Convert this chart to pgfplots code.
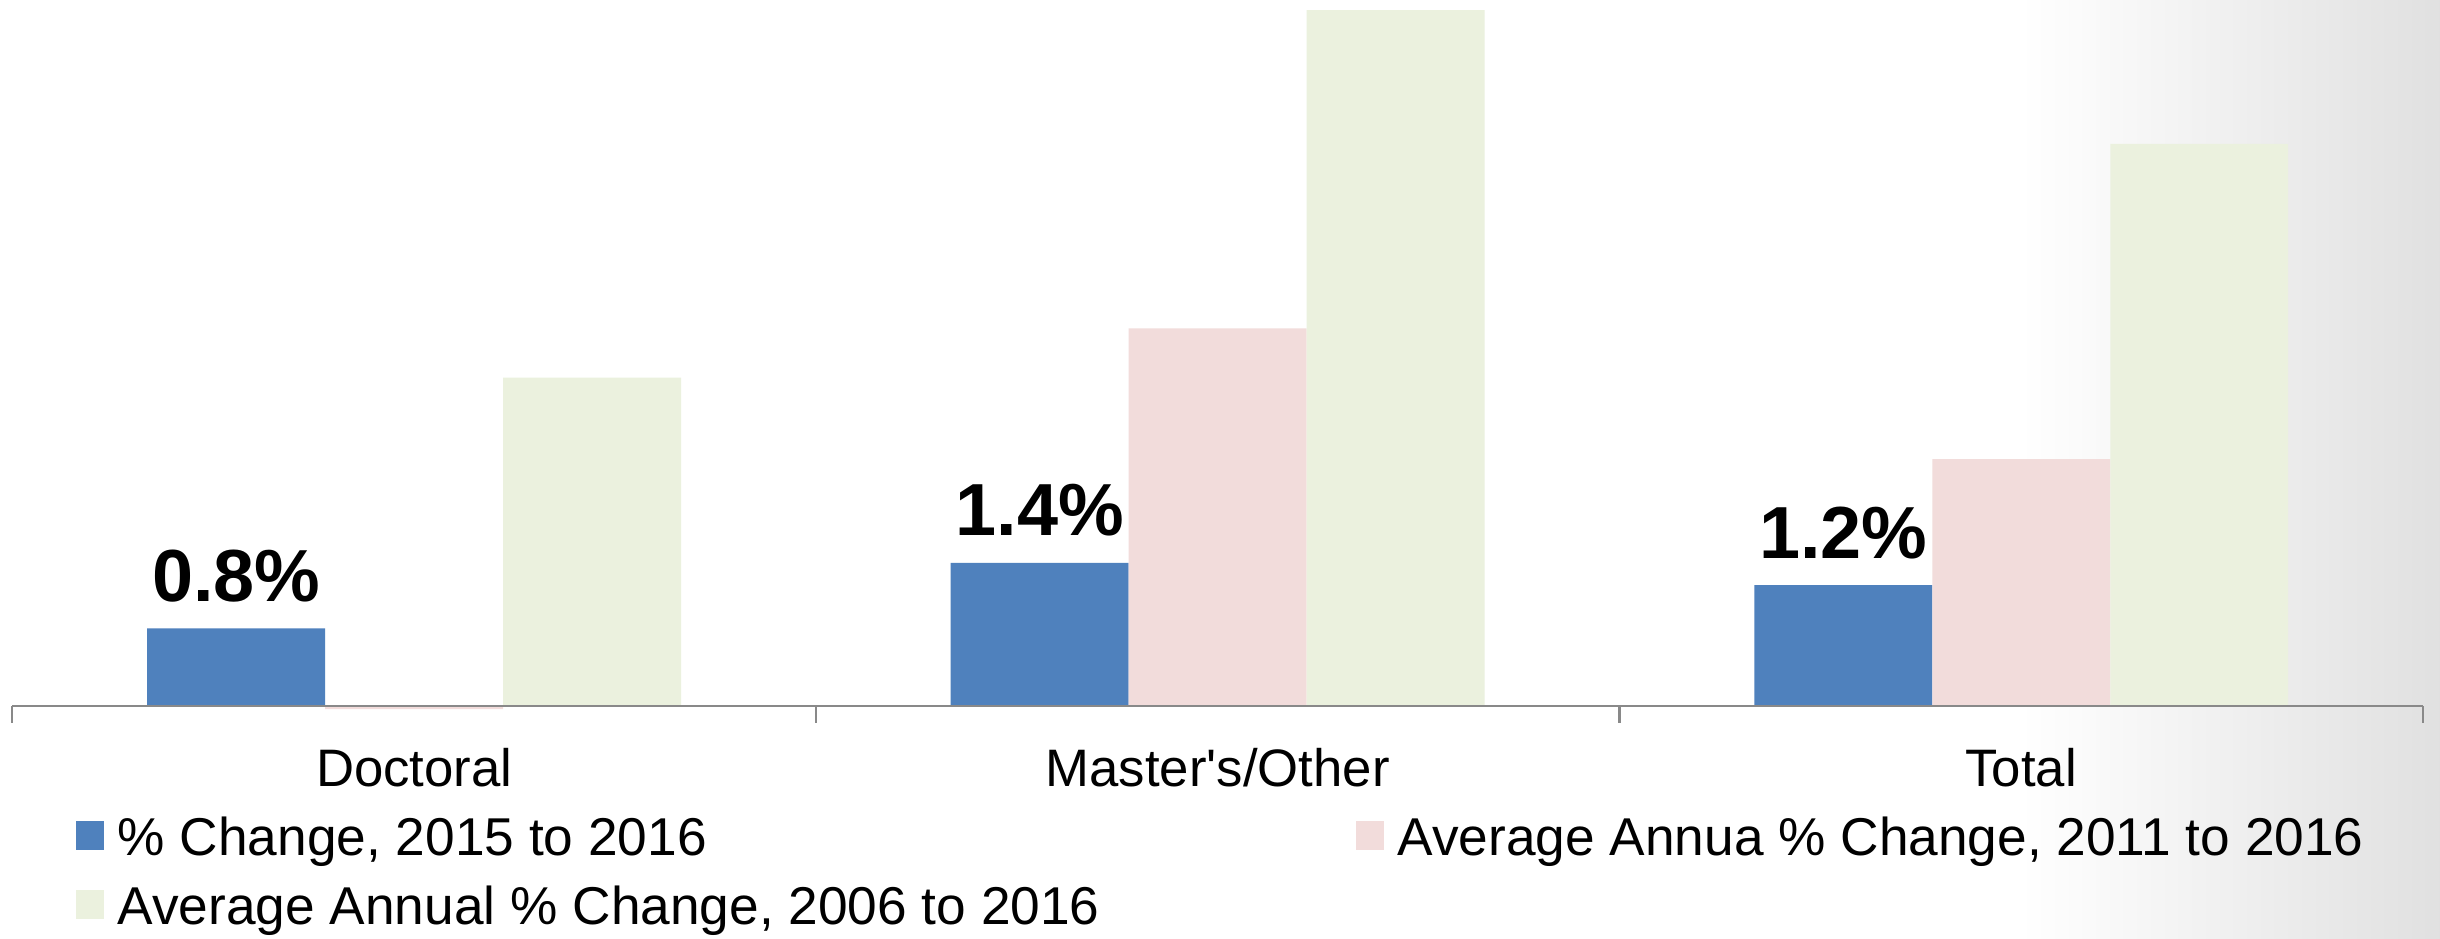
\documentclass[border=0pt]{standalone}
\usepackage{pgfplots}
\pgfplotsset{compat=1.18}
\usepackage{fontspec}
\setmainfont{Liberation Sans}
\definecolor{cblue}{HTML}{4F81BD}
\definecolor{cpink}{HTML}{F2DCDB}
\definecolor{cgreen}{HTML}{EBF1DE}
\definecolor{axgray}{HTML}{898989}
\pgfplotsset{sqlegend/.style={legend image code/.code={\fill[##1] (0cm,-0.09cm) rectangle (0.28cm,0.20cm);}}}
\begin{document}
\begin{tikzpicture}
\fill[white] (0,0) rectangle (24.4,9.39);
\shade[left color=white, right color=black!12] (20.2,0) rectangle (24.4,9.39);
\begin{axis}[
  at={(0.124cm,2.33cm)}, anchor=south west,
  scale only axis, width=24.106cm, height=7.06cm,
  xmin=-0.5, xmax=2.5, ymin=0, ymax=7.01,
  axis y line=none, axis x line*=bottom,
  axis line style={axgray, line width=0.6pt},
  clip=false, axis on top,
  xtick={0,1,2}, xticklabels={Doctoral, Master\textquotesingle s/Other, Total},
  major tick length=0pt,
  minor xtick={-0.5,0.5,1.5,2.5}, minor tick length=0.17cm, tick align=outside,
  minor tick style={axgray, line width=0.6pt},
  xticklabel style={anchor=base, yshift=-0.81cm, inner sep=0pt, font=\fontsize{15}{18}\selectfont},
  ybar, bar width=0.2215,
  legend columns=2, legend cell align=left,
  legend style={draw=none, fill=none, at={(0.026,-0.1543)}, anchor=north west,
    inner sep=0pt, row sep=0.19cm, font=\fontsize{15.15}{18}\selectfont,
    nodes={inner sep=0pt, text height=0.4cm, text depth=0.1cm},
    /tikz/every odd column/.style={column sep=0.14cm},
    /tikz/every even column/.style={column sep=2.56cm}},
]
% % Change, 2015 to 2016
\addplot[fill=cblue, draw=none, bar shift=-0.2215, sqlegend,
  point meta=explicit symbolic, nodes near coords,
  every node near coord/.append style={anchor=base, yshift=0.27cm, inner sep=0pt,
    font=\fontsize{21}{25}\selectfont\bfseries, text=black}]
  coordinates {(0,0.77)[0.8\%] (1,1.42)[1.4\%] (2,1.20)[1.2\%]};
\addlegendentry{\% Change, 2015 to 2016}
% Average annual, 2011 to 2016
\addplot[fill=cpink, draw=none, bar shift=0, sqlegend]
  coordinates {(0,-0.03) (1,3.75) (2,2.45)};
\addlegendentry{Average Annua \% Change, 2011 to 2016}
% Average annual, 2006 to 2016
\addplot[fill=cgreen, draw=none, bar shift=0.2215, sqlegend]
  coordinates {(0,3.26) (1,6.91) (2,5.58)};
\addlegendentry{Average Annual \% Change, 2006 to 2016}
\end{axis}
\pgfresetboundingbox
\useasboundingbox (0,0) rectangle (24.4,9.39);
\end{tikzpicture}
\end{document}
